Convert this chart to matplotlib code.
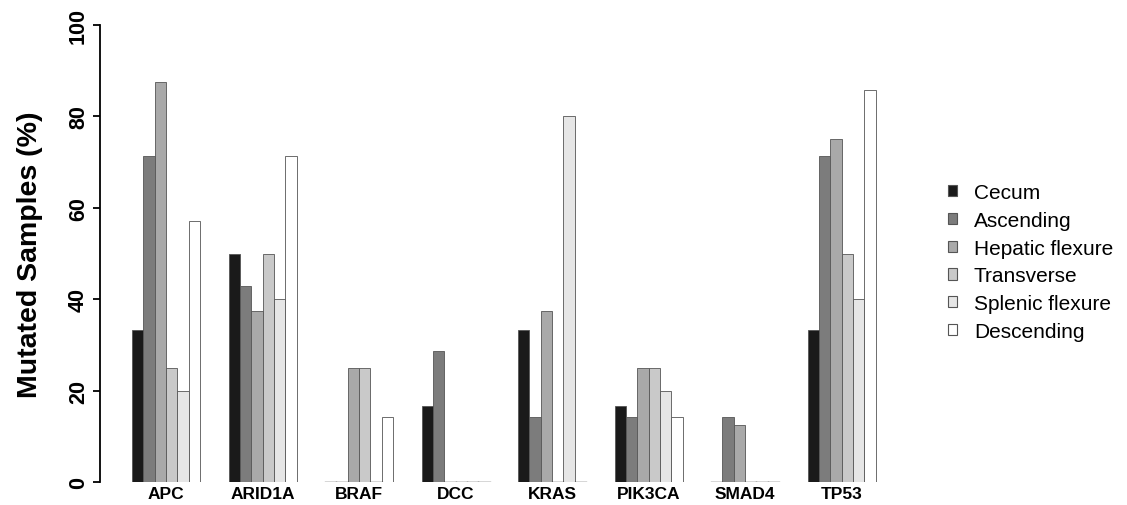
import matplotlib
matplotlib.use('Agg')
import matplotlib.pyplot as plt
from matplotlib.patches import Patch
import numpy as np

plt.rcParams['font.family'] = ['Liberation Sans', 'DejaVu Sans']

# gene mutation frequencies by colon location
genes = ['APC', 'ARID1A', 'BRAF', 'DCC', 'KRAS', 'PIK3CA', 'SMAD4', 'TP53']
locations = ['Cecum', 'Ascending', 'Hepatic flexure', 'Transverse', 'Splenic flexure', 'Descending']
colors = ['#1a1a1a', '#7c7c7c', '#a9a9a9', '#c9c9c9', '#e6e6e6', '#ffffff']

cecum = [33.3, 50.0, 0.0, 16.7, 33.3, 16.7, 0.0, 33.3]
ascending = [71.4, 42.9, 0.0, 28.6, 14.3, 14.3, 14.3, 71.4]
hepatic = [87.5, 37.5, 25.0, 0.0, 37.5, 25.0, 12.5, 75.0]
transverse = [25.0, 50.0, 25.0, 0.0, 0.0, 25.0, 0.0, 50.0]
splenic = [20.0, 40.0, 0.0, 0.0, 80.0, 20.0, 0.0, 40.0]
descending = [57.1, 71.4, 14.3, 0.0, 0.0, 14.3, 0.0, 85.7]

series = [cecum, ascending, hepatic, transverse, splenic, descending]

W, H = 1127, 506
fig = plt.figure(figsize=(W / 100, H / 100), dpi=100)

# axes from x=100px to 900px, y=483px (0) to 26px (100)
ax = fig.add_axes([100 / W, 23 / H, 800 / W, 457 / H])

bar_px = 11.35
n_units = 800 / bar_px
offset = (132 - 100) / bar_px
pitch = 96.5 / bar_px

for j, vals in enumerate(series):
    for i, v in enumerate(vals):
        x = offset + i * pitch + j
        ax.bar(x, v, width=1.0, align='edge', color=colors[j],
               edgecolor='#555555', linewidth=0.6)
        if v == 0:
            ax.plot([x, x + 1], [0, 0], color='#333333', linewidth=1.0)

ax.set_xlim(0, n_units)
ax.set_ylim(0, 100)

for s in ['top', 'right', 'bottom']:
    ax.spines[s].set_visible(False)
ax.spines['left'].set_linewidth(1.3)
ax.spines['left'].set_position(('data', 0))

ax.set_yticks([0, 20, 40, 60, 80, 100])
ax.set_yticklabels(['0', '20', '40', '60', '80', '100'], rotation=90,
                   va='center', fontsize=15.5, fontweight='bold')
ax.tick_params(axis='y', length=5, width=1.3, pad=3)

centers = [offset + i * pitch + 3 for i in range(len(genes))]
ax.set_xticks(centers)
ax.set_xticklabels(genes, fontsize=12.5, fontweight='bold')
ax.tick_params(axis='x', length=0, pad=3)

ax.set_ylabel('Mutated Samples (%)', fontsize=20.5, fontweight='bold', labelpad=18)

handles = [Patch(facecolor=c, edgecolor='#555555', linewidth=0.8) for c in colors]
fig.legend(handles, locations, loc='center left', bbox_to_anchor=(929 / W, 1 - 263 / H),
           frameon=False, fontsize=15, handlelength=0.45, handleheight=0.45,
           handletextpad=0.8, labelspacing=0.42)

fig.savefig('out.png', dpi=100)
